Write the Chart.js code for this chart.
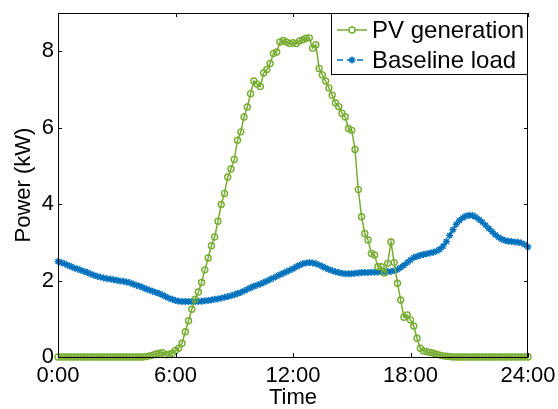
<!DOCTYPE html>
<html>
<head>
<meta charset="utf-8">
<script src="https://cdn.jsdelivr.net/npm/chart.js@4.4.0/dist/chart.umd.min.js"></script>
<style>
  html, body { margin: 0; padding: 0; background: #fff; }
  #chart { display: block; }
</style>
</head>
<body>
<canvas id="chart" width="558" height="409"></canvas>
<script>
// power in kW, one sample every 10 minutes from 0:00 to 24:00 (one row per hour)
const pvGeneration = [
    0, 0, 0, 0, 0, 0,
    0, 0, 0, 0, 0, 0,
    0, 0, 0, 0, 0, 0,
    0, 0, 0, 0, 0, 0,
    0, 0, 0, 0.01, 0.03, 0.05,
    0.08, 0.10, 0.11, 0.06, 0.07, 0.10,
    0.17, 0.23, 0.36, 0.66, 0.95, 1.25,
    1.51, 1.70, 1.95, 2.28, 2.59, 2.91,
    3.14, 3.55, 3.99, 4.28, 4.71, 4.92,
    5.17, 5.67, 5.89, 6.28, 6.54, 6.89,
    7.22, 7.14, 7.08, 7.43, 7.52, 7.68,
    7.94, 7.98, 8.24, 8.28, 8.24, 8.20,
    8.22, 8.20, 8.27, 8.30, 8.34, 8.35,
    8.08, 8.17, 7.55, 7.38, 7.22, 7.04,
    6.85, 6.65, 6.55, 6.38, 6.28, 5.98,
    5.93, 5.43, 4.38, 3.67, 3.23, 3.06,
    2.71, 2.67, 2.36, 2.36, 2.20, 2.45,
    3.01, 2.47, 1.93, 1.49, 1.04, 1.10,
    0.97, 0.81, 0.49, 0.23, 0.16, 0.14,
    0.12, 0.10, 0.07, 0.05, 0.03, 0.02,
    0.01, 0, 0, 0, 0, 0,
    0, 0, 0, 0, 0, 0,
    0, 0, 0, 0, 0, 0,
    0, 0, 0, 0, 0, 0,
    0
];
const baselineLoad = [
    2.50, 2.47, 2.44, 2.40, 2.37, 2.33,
    2.30, 2.27, 2.24, 2.21, 2.17, 2.14,
    2.11, 2.09, 2.07, 2.05, 2.04, 2.02,
    2.01, 1.99, 1.98, 1.96, 1.94, 1.91,
    1.88, 1.85, 1.82, 1.78, 1.75, 1.72,
    1.69, 1.66, 1.62, 1.58, 1.54, 1.51,
    1.48, 1.46, 1.45, 1.45, 1.45, 1.45,
    1.45, 1.45, 1.46, 1.47, 1.48, 1.49,
    1.51, 1.52, 1.54, 1.56, 1.58, 1.60,
    1.63, 1.66, 1.69, 1.73, 1.77, 1.81,
    1.85, 1.88, 1.91, 1.95, 1.99, 2.03,
    2.07, 2.11, 2.15, 2.19, 2.23, 2.27,
    2.31, 2.36, 2.40, 2.44, 2.46, 2.47,
    2.46, 2.44, 2.41, 2.37, 2.33, 2.29,
    2.26, 2.23, 2.21, 2.19, 2.18, 2.18,
    2.18, 2.19, 2.20, 2.21, 2.21, 2.21,
    2.22, 2.22, 2.22, 2.23, 2.23, 2.23,
    2.24, 2.26, 2.29, 2.34, 2.40, 2.47,
    2.54, 2.60, 2.63, 2.66, 2.68, 2.70,
    2.72, 2.74, 2.77, 2.82, 2.90, 3.02,
    3.18, 3.33, 3.47, 3.57, 3.64, 3.69,
    3.71, 3.70, 3.66, 3.60, 3.53, 3.45,
    3.36, 3.28, 3.20, 3.13, 3.08, 3.05,
    3.03, 3.02, 3.01, 3.00, 2.98, 2.94,
    2.88
];
const seriesNames = ['PV generation', 'Baseline load'];
const hourTicks = [0, 6, 12, 18, 24];
const hourLabels = ['0:00', '6:00', '12:00', '18:00', '24:00'];
const powerTicks = [0, 2, 4, 6, 8];

const GREEN = '#77AC30';
const BLUE = '#0072BD';
const FONT = '"Liberation Sans", Arial, Helvetica, sans-serif';

// sample time in hours (10 minute steps)
const timeHours = pvGeneration.map((_, i) => i / 6);
const toPoints = (vals) => vals.map((v, i) => ({ x: timeHours[i], y: v }));

// matlab style box with inward ticks
const boxTicks = {
    id: 'boxTicks',
    afterDatasetsDraw(chart) {
        const { ctx, chartArea: a, scales } = chart;
        const len = 4;
        ctx.save();
        ctx.strokeStyle = '#000';
        ctx.lineWidth = 1;
        ctx.strokeRect(a.left + 0.5, a.top + 0.5, a.right - a.left - 1, a.bottom - a.top);
        ctx.beginPath();
        scales.x.ticks.forEach(t => {
            const px = Math.round(scales.x.getPixelForValue(t.value)) + 0.5;
            ctx.moveTo(px, a.bottom); ctx.lineTo(px, a.bottom - len);
            ctx.moveTo(px, a.top); ctx.lineTo(px, a.top + len);
        });
        scales.y.ticks.forEach(t => {
            const py = Math.round(scales.y.getPixelForValue(t.value)) + 0.5;
            ctx.moveTo(a.left, py); ctx.lineTo(a.left + len, py);
            ctx.moveTo(a.right, py); ctx.lineTo(a.right - len, py);
        });
        ctx.stroke();
        ctx.restore();
    }
};

// legend box in the upper right corner of the axes
const boxLegend = {
    id: 'boxLegend',
    afterDraw(chart) {
        const { ctx, chartArea: a } = chart;
        const w = 197, h = 61;
        const x0 = a.right - w, y0 = a.top;
        ctx.save();
        ctx.fillStyle = '#fff';
        ctx.fillRect(x0, y0, w, h);
        ctx.strokeStyle = '#000';
        ctx.lineWidth = 1;
        ctx.strokeRect(x0 + 0.5, y0 + 0.5, w - 1, h);
        ctx.font = '24px ' + FONT;
        ctx.textBaseline = 'middle';
        chart.data.datasets.forEach((ds, i) => {
            const cy = y0 + 17 + i * 30;
            const lx = x0 + 6, rx = x0 + 36, mx = (lx + rx) / 2;
            ctx.strokeStyle = ds.borderColor;
            ctx.lineWidth = ds.borderWidth;
            ctx.setLineDash(ds.borderDash || []);
            ctx.beginPath();
            ctx.moveTo(lx, cy); ctx.lineTo(rx, cy);
            ctx.stroke();
            ctx.setLineDash([]);
            Chart.helpers.drawPoint(ctx, {
                pointStyle: ds.pointStyle,
                radius: ds.pointRadius,
                borderWidth: ds.pointBorderWidth
            }, mx, cy);
            ctx.fillStyle = '#000';
            ctx.fillText(ds.label, x0 + 41, cy + 1);
        });
        ctx.restore();
    }
};

new Chart(document.getElementById('chart'), {
    type: 'line',
    data: {
        datasets: [{
            label: seriesNames[0],
            data: toPoints(pvGeneration),
            borderColor: GREEN,
            backgroundColor: 'rgba(0,0,0,0)',
            borderWidth: 1.5,
            pointStyle: 'circle',
            pointRadius: 3,
            pointBorderWidth: 1.4,
            pointBorderColor: GREEN,
            pointBackgroundColor: 'rgba(0,0,0,0)',
            tension: 0,
            clip: false
        }, {
            label: seriesNames[1],
            data: toPoints(baselineLoad),
            borderColor: BLUE,
            backgroundColor: BLUE,
            borderWidth: 1.5,
            borderDash: [6, 4],
            pointStyle: 'star',
            pointRadius: 3.5,
            pointBorderWidth: 1.4,
            pointBorderColor: BLUE,
            tension: 0,
            clip: false
        }]
    },
    options: {
        responsive: false,
        animation: false,
        layout: { padding: { top: 13, right: 30, left: 0, bottom: 0 } },
        plugins: { legend: { display: false }, tooltip: { enabled: false } },
        scales: {
            x: {
                type: 'linear',
                min: 0, max: 24,
                afterBuildTicks: (s) => { s.ticks = hourTicks.map(v => ({ value: v })); },
                afterFit: (s) => { s.height = 52; s.paddingLeft = 0; s.paddingRight = 0; },
                grid: { drawOnChartArea: false, drawTicks: false },
                border: { display: true, color: '#000', width: 1 },
                ticks: {
                    color: '#000',
                    padding: 6,
                    maxRotation: 0,
                    font: { family: FONT, size: 22 },
                    callback: (v) => hourLabels[hourTicks.indexOf(v)]
                },
                title: {
                    display: true, text: 'Time', color: '#000',
                    font: { family: FONT, size: 22, lineHeight: 1 },
                    padding: { top: 0, bottom: 0 }
                }
            },
            y: {
                min: 0, max: 9,
                afterBuildTicks: (s) => { s.ticks = powerTicks.map(v => ({ value: v })); },
                afterFit: (s) => { s.width = 58; s.paddingTop = 0; s.paddingBottom = 0; },
                grid: { drawOnChartArea: false, drawTicks: false },
                border: { display: true, color: '#000', width: 1 },
                ticks: {
                    color: '#000',
                    padding: 4,
                    font: { family: FONT, size: 22 }
                },
                title: {
                    display: true, text: 'Power (kW)', color: '#000',
                    font: { family: FONT, size: 22, lineHeight: 1 },
                    padding: { top: 13, bottom: 0 }
                }
            }
        }
    },
    plugins: [boxTicks, boxLegend]
});
</script>
</body>
</html>
